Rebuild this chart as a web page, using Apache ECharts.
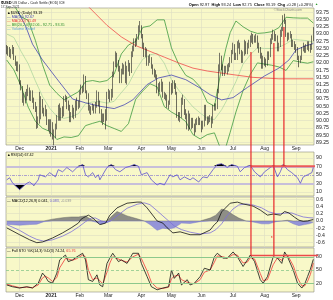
<!DOCTYPE html>
<html><head><meta charset="utf-8">
<script src="https://cdn.jsdelivr.net/npm/echarts/dist/echarts.min.js"></script>
<style>html,body{margin:0;padding:0;background:#fff}#c{width:333px;height:300px}</style>
</head><body><div id="c"></div>
<script>
// ---------- DATA ----------
const monthTickDays = [9, 31, 51, 71, 94, 115, 136, 158, 180, 202];
const monthLabels = ['Dec','2021','Feb','Mar','Apr','May','Jun','Jul','Aug','Sep'];
const priceTicks = [89.25,89.5,89.75,90,90.25,90.5,90.75,91,91.25,91.5,91.75,92,92.25,92.5,92.75,93,93.25,93.5,93.75];
const rsiTicks = [10,30,50,70,90];
const macdTicks = [-0.6,-0.4,-0.2,0,0.2,0.4,0.6];
const stoTicks = [20,50,80];

const opens = [92.55,92.43,92.32,92.28,92.39,92.50,92.19,92.00,91.78,
91.87,91.32,91.12,90.70,90.70,90.80,91.00,91.10,90.80,90.98,90.70,90.50,90.45,89.80,90.00,90.10,90.65,90.35,90.25,90.30,89.95,89.72,
89.90,89.87,89.40,89.50,89.80,90.08,90.45,90.10,90.35,90.22,90.75,90.78,90.50,90.48,90.10,90.20,90.40,90.18,90.62,90.45,
90.55,91.00,91.10,91.08,91.50,91.00,90.90,90.40,90.42,90.40,90.48,90.30,90.50,90.95,90.60,90.35,90.10,90.12,90.10,90.08,
90.88,91.00,90.80,90.90,91.60,91.90,92.30,91.95,91.80,91.40,91.70,91.80,91.85,91.40,91.80,91.85,91.70,92.30,92.50,92.75,92.70,92.90,93.20,
93.25,92.90,92.60,92.30,92.45,92.00,92.15,92.15,91.85,91.70,91.65,91.55,91.05,91.20,91.10,91.30,90.85,90.85,90.80,90.55,90.60,
91.25,91.00,91.30,91.25,90.95,90.20,90.15,90.15,90.70,90.70,90.30,90.20,89.80,90.20,89.80,90.00,89.80,89.65,89.95,89.95,90.00,
89.95,89.85,89.85,90.45,90.10,89.95,90.05,90.05,89.95,90.50,90.50,90.50,91.05,91.85,92.20,91.85,91.70,91.75,91.80,91.80,91.90,92.10,
92.40,92.55,92.20,92.20,92.60,92.65,92.40,92.10,92.30,92.70,92.40,92.60,92.65,92.80,92.90,92.80,92.80,92.85,92.60,92.45,92.30,91.90,
92.15,92.05,92.00,92.30,92.25,92.75,92.90,93.05,92.90,92.90,92.50,92.60,93.10,93.15,93.55,93.45,92.95,92.85,92.95,92.95,92.65,92.65,
92.60,92.50,92.20,92.05,92.15,92.50,92.55,92.45,92.55,92.65,92.60,92.50,92.97];
const highs = [92.62,92.58,92.55,92.48,92.62,92.55,92.25,92.05,92.05,
91.95,91.40,91.20,90.95,91.00,91.10,91.25,91.15,91.05,91.05,90.80,90.65,90.50,90.15,91.00,90.85,90.75,90.45,90.55,90.40,90.05,90.05,
90.05,89.95,89.70,89.90,90.20,90.55,90.60,90.45,90.50,90.85,90.90,90.85,90.70,90.55,90.30,90.55,90.45,90.70,90.80,90.70,
91.05,91.25,91.20,91.60,91.55,91.05,90.95,90.55,90.50,90.60,90.55,90.65,91.05,91.00,90.70,90.40,90.25,90.25,90.40,91.00,
91.10,91.05,91.10,91.70,92.05,92.40,92.35,92.10,91.90,91.80,92.00,91.95,92.05,91.90,92.10,92.00,92.40,92.60,92.85,92.85,93.00,93.30,93.45,
93.30,93.00,92.70,92.55,92.50,92.25,92.30,92.20,91.95,91.80,91.75,91.60,91.30,91.35,91.45,91.35,91.00,90.95,90.90,90.70,91.35,
91.30,91.40,91.40,91.30,91.00,90.30,90.30,90.80,90.90,90.75,90.40,90.25,90.35,90.25,90.10,90.10,89.90,90.05,90.10,90.15,90.10,
90.00,90.00,90.55,90.55,90.15,90.15,90.20,90.15,90.55,90.60,90.60,91.10,91.95,92.35,92.25,91.95,91.90,91.90,91.95,92.00,92.20,92.45,
92.70,92.65,92.35,92.75,92.80,92.70,92.45,92.40,92.80,92.75,92.70,92.80,92.95,93.05,93.00,92.95,93.00,92.95,92.70,92.55,92.35,92.25,
92.20,92.15,92.40,92.40,92.85,93.00,93.15,93.10,93.00,92.95,92.70,93.15,93.25,93.65,93.70,93.50,93.05,93.05,93.10,93.00,92.80,92.75,
92.65,92.55,92.25,92.25,92.55,92.70,92.60,92.65,92.75,92.75,92.65,92.95,93.24];
const lows = [92.30,92.25,92.20,92.15,92.30,92.10,91.90,91.72,91.70,
91.25,91.05,90.62,90.52,90.60,90.70,90.85,90.70,90.68,90.62,90.40,90.30,89.72,89.75,89.90,90.05,90.25,90.15,90.15,89.85,89.65,89.55,
89.45,89.35,89.15,89.40,89.70,90.00,90.00,90.00,90.10,90.15,90.65,90.40,90.35,89.95,89.95,90.10,90.05,90.10,90.35,90.40,
90.45,90.90,90.95,91.00,90.95,90.75,90.35,90.25,90.20,90.35,90.25,90.25,90.45,90.50,90.25,89.95,89.85,89.95,89.70,90.00,
90.75,90.65,90.70,90.80,91.50,91.85,91.85,91.70,91.30,91.30,91.60,91.60,91.30,91.25,91.70,91.55,91.65,92.20,92.40,92.55,92.60,92.80,93.05,
92.85,92.50,92.20,92.20,91.90,91.90,92.00,91.80,91.60,91.50,91.45,90.95,90.85,91.00,91.00,90.80,90.75,90.70,90.45,90.40,90.55,
90.90,90.95,91.10,90.90,90.10,90.00,89.95,90.10,90.55,90.20,90.05,89.70,89.65,89.70,89.70,89.75,89.50,89.60,89.85,89.85,89.85,
89.60,89.70,89.80,90.00,89.85,89.90,89.95,89.75,89.90,90.35,90.35,90.40,90.95,91.70,91.75,91.55,91.55,91.65,91.60,91.70,91.85,92.00,
92.30,92.10,92.10,92.10,92.50,92.30,92.00,92.00,92.25,92.30,92.30,92.50,92.55,92.70,92.65,92.70,92.70,92.50,92.35,92.15,91.80,91.80,
91.90,91.85,91.90,92.10,92.20,92.65,92.80,92.75,92.75,92.40,92.40,92.55,92.90,93.10,93.35,92.90,92.75,92.80,92.85,92.55,92.55,92.45,
92.35,92.10,91.85,92.00,92.10,92.40,92.35,92.35,92.45,92.40,92.35,92.45,92.75];
const closes = [92.43,92.32,92.28,92.39,92.50,92.19,92.00,91.78,91.87,
91.32,91.12,90.70,90.70,90.80,91.00,91.10,90.80,90.98,90.70,90.50,90.45,89.80,90.00,90.10,90.65,90.35,90.25,90.30,89.95,89.72,89.90,
89.87,89.40,89.50,89.80,90.08,90.45,90.10,90.35,90.22,90.75,90.78,90.50,90.48,90.10,90.20,90.40,90.18,90.62,90.45,90.55,
91.00,91.10,91.08,91.50,91.00,90.90,90.40,90.42,90.40,90.48,90.30,90.50,90.95,90.60,90.35,90.10,90.12,90.10,90.08,90.88,
91.00,90.80,90.90,91.60,91.90,92.30,91.95,91.80,91.40,91.70,91.80,91.85,91.40,91.80,91.85,91.70,92.30,92.50,92.75,92.70,92.90,93.20,93.25,
92.90,92.60,92.30,92.45,92.00,92.15,92.15,91.85,91.70,91.65,91.55,91.05,91.20,91.10,91.30,90.85,90.85,90.80,90.55,90.60,91.25,
91.00,91.30,91.25,90.95,90.20,90.15,90.15,90.70,90.70,90.30,90.20,89.80,90.20,89.80,90.00,89.80,89.65,89.95,89.95,90.00,89.95,
89.85,89.85,90.45,90.10,89.95,90.05,90.05,89.95,90.50,90.50,90.50,91.05,91.85,92.20,91.85,91.70,91.75,91.80,91.80,91.90,92.10,92.40,
92.55,92.20,92.20,92.60,92.65,92.40,92.10,92.30,92.70,92.40,92.60,92.65,92.80,92.90,92.80,92.80,92.85,92.60,92.45,92.30,91.90,92.15,
92.05,92.00,92.30,92.25,92.75,92.90,93.05,92.90,92.90,92.50,92.60,93.10,93.15,93.55,93.45,92.95,92.85,92.95,92.95,92.65,92.65,92.60,
92.50,92.20,92.05,92.15,92.50,92.55,92.45,92.55,92.65,92.60,92.50,92.91,93.19];

const ma50Pts = [[8,93.76],[13,93.30],[18,92.65],[25,92.10],[35,91.45],[46,90.75],[55,90.62],[65,90.50],[75,90.42],[82,90.55],[88,90.72],[98,91.25],[106,91.48],[115,91.58],[125,91.42],[135,91.13],[142,90.90],[150,90.72],[158,90.80],[168,91.15],[180,91.55],[190,91.82],[197,92.10],[202,92.45],[208,92.58],[214,92.67]];
const ma200Pts = [[57,93.95],[62,93.70],[70,93.30],[80,92.90],[90,92.60],[100,92.40],[110,92.20],[120,92.00],[130,91.82],[140,91.72],[154,91.62],[172,91.50],[190,91.45],[214,91.45]];
const bbDays  = [0,5,10,15,20,25,30,35,40,45,50,55,60,65,70,75,80,85,90,95,100,105,110,115,120,125,130,135,140,145,150,153,156,160,165,170,175,180,185,190,195,200,205,210,214];
const bbUpper = [93.90,94.00,93.60,93.47,92.78,91.94,91.23,90.95,90.72,90.86,91.00,91.35,91.39,91.34,91.39,91.61,92.31,92.62,92.74,93.23,93.28,93.49,93.49,92.52,91.96,91.57,91.44,91.17,90.64,90.50,91.82,92.50,93.05,93.45,93.25,93.10,93.02,93.04,93.08,93.22,93.58,93.56,93.55,93.55,93.38];
const bbMid   = [93.00,92.88,92.40,91.97,91.38,90.84,90.43,90.15,90.08,90.14,90.24,90.59,90.65,90.66,90.61,90.67,90.97,91.26,91.74,92.13,92.28,92.33,91.99,91.42,91.06,90.77,90.48,90.27,90.08,90.04,90.38,90.65,90.95,91.35,91.96,92.28,92.52,92.50,92.50,92.54,92.66,92.82,92.79,92.77,92.71];
const bbLower = [92.10,91.76,91.20,90.47,89.98,89.74,89.63,89.35,89.44,89.42,89.48,89.83,89.91,89.98,89.83,89.73,89.63,89.90,90.74,91.03,91.28,91.17,90.49,90.30,90.16,89.97,89.52,89.37,89.52,89.58,88.94,89.10,89.60,90.30,91.05,91.60,92.00,91.96,91.92,91.86,91.74,92.08,92.03,91.99,92.04];

const rsiPts = [[0,38],[2,43],[4,31],[9,15],[14,30],[16,33],[19,25],[20,21],[22,38],[23,50],[27,45],[30,55],[34,45],[36,62],[39,57],[42,67],[46,57],[49,67],[53,74],[55,50],[57,45],[60,55],[62,43],[64,50],[65,38],[67,50],[70,67],[73,74],[76,62],[79,57],[83,67],[86,70],[89,74],[92,70],[94,50],[98,55],[101,38],[105,26],[107,30],[110,26],[114,50],[116,45],[119,50],[121,38],[124,45],[128,38],[130,43],[134,33],[137,45],[140,43],[144,62],[147,74],[150,76],[154,67],[157,74],[161,70],[163,57],[166,67],[170,72],[173,57],[177,45],[180,57],[184,67],[186,72],[189,45],[191,57],[193,74],[196,62],[199,55],[203,43],[205,30],[207,45],[210,50],[213,55],[214,67.42]];

const macdPts = [[0,-0.19],[9,-0.38],[16,-0.52],[21,-0.60],[25,-0.58],[32,-0.47],[39,-0.33],[45,-0.19],[50,-0.06],[52,0.05],[55,0.12],[57,0.16],[59,0.11],[61,0.05],[65,-0.10],[69,-0.06],[72,0.16],[77,0.36],[84,0.49],[91,0.52],[94,0.52],[98,0.36],[105,0.0],[109,-0.06],[112,-0.19],[116,-0.33],[121,-0.30],[128,-0.38],[135,-0.38],[142,-0.25],[145,-0.10],[147,-0.03],[150,0.25],[156,0.49],[161,0.52],[165,0.47],[172,0.41],[177,0.30],[182,0.16],[186,0.19],[191,0.16],[194,0.26],[197,0.22],[201,0.10],[204,0.02],[207,-0.01],[210,0.0],[214,0.041]];
const signalPts = [[0,-0.10],[9,-0.26],[16,-0.42],[21,-0.51],[26,-0.56],[32,-0.52],[39,-0.42],[45,-0.30],[50,-0.17],[55,-0.02],[59,0.08],[62,0.08],[66,0.0],[70,-0.04],[73,0.02],[77,0.14],[84,0.35],[91,0.46],[96,0.50],[100,0.45],[105,0.28],[109,0.14],[113,0.0],[117,-0.14],[122,-0.24],[128,-0.31],[135,-0.36],[142,-0.33],[146,-0.24],[150,-0.08],[154,0.15],[158,0.33],[162,0.44],[167,0.47],[172,0.44],[178,0.36],[183,0.25],[188,0.20],[191,0.20],[195,0.22],[199,0.22],[203,0.16],[207,0.11],[211,0.09],[214,0.083]];
const histPts = [[0,-0.09],[9,-0.12],[16,-0.10],[21,-0.09],[26,-0.02],[32,0.05],[39,0.09],[45,0.11],[50,0.11],[55,0.14],[59,0.04],[62,-0.03],[66,-0.09],[70,-0.04],[73,0.12],[77,0.26],[84,0.14],[91,0.06],[96,0.0],[100,-0.10],[105,-0.26],[109,-0.20],[113,-0.22],[117,-0.19],[122,-0.06],[128,-0.07],[135,-0.02],[142,0.08],[146,0.16],[150,0.33],[154,0.28],[158,0.17],[162,0.08],[167,0.0],[172,-0.03],[178,-0.08],[183,-0.08],[188,-0.02],[192,0.0],[196,0.02],[200,-0.08],[204,-0.13],[208,-0.10],[211,-0.08],[214,-0.039]];

const stoK = [[0,16],[4,12],[9,9],[14,12],[18,9],[22,20],[25,43],[27,35],[29,24],[32,20],[35,43],[37,73],[41,84],[43,69],[46,73],[49,80],[53,88],[55,73],[57,28],[60,24],[63,39],[65,16],[67,12],[70,65],[72,77],[74,88],[78,69],[80,73],[84,65],[88,88],[92,88],[94,65],[98,35],[101,12],[105,5],[109,9],[113,12],[115,50],[117,31],[120,43],[122,16],[126,28],[128,16],[131,20],[135,35],[138,54],[142,50],[145,80],[147,88],[151,77],[154,77],[158,91],[161,80],[165,58],[168,73],[170,84],[173,69],[177,28],[179,20],[182,35],[186,80],[189,77],[192,65],[194,91],[196,80],[200,50],[203,20],[206,9],[208,18],[210,35],[212,52],[214,74.24]];
const stoD = [[0,18],[4,14],[9,10],[14,11],[18,10],[22,16],[25,32],[27,36],[29,32],[32,24],[35,33],[37,55],[41,76],[43,75],[46,72],[49,76],[53,84],[55,80],[57,50],[60,28],[63,32],[65,26],[67,18],[70,45],[72,66],[74,80],[78,75],[80,72],[84,68],[88,80],[92,86],[94,76],[98,48],[101,22],[105,9],[109,8],[113,11],[115,30],[117,36],[120,38],[122,28],[126,22],[128,20],[131,19],[135,28],[138,45],[142,50],[145,68],[147,82],[151,80],[154,77],[158,85],[161,84],[165,66],[168,68],[170,78],[173,75],[177,42],[179,26],[182,28],[186,62],[189,78],[192,72],[194,82],[196,84],[200,60],[203,32],[206,14],[208,14],[210,24],[212,40],[214,65.76]];

// user-drawn annotations
const markerDays = [170.5, 186.5, 193.5];
const markerTopPrices = [92.38, 92.69, 93.24];
const markerStops = ['sto', 'sto', 'rsi'];
const rsiRedLevel = 70;
const stoRedLevel = 83;
const macdDot = [185, -0.44];

// ---------- CHART ----------
const FONT = 'Liberation Sans';
const BG = '#f8f8c8';
const GRIDC = '#deddc2';
const chart = echarts.init(document.getElementById('c'), null, {renderer: 'canvas'});
const candleData = closes.map((c, i) => [i, opens[i], c, lows[i], highs[i]]);
const pairs = (days, vals) => days.map((d, i) => [d, vals[i]]);

const gridBoxes = [[8,137],[152,44],[197,50],[248,44]];
const grids = gridBoxes.map(b => ({left: 6, top: b[0], width: 308, height: b[1], show: true,
  backgroundColor: BG, borderColor: '#8f8f80', borderWidth: 0.6, containLabel: false, outerBoundsMode: 'none'}));

function xAx(i, showLabel) {
  return {type: 'value', gridIndex: i, min: -0.5, max: 214.5,
    axisLine: {show: false}, axisTick: {show: false, customValues: monthTickDays},
    splitLine: {show: true, lineStyle: {color: GRIDC, width: 0.6}},
    axisLabel: {show: showLabel, customValues: monthTickDays, fontSize: 5, color: '#222', margin: 1.5, fontFamily: FONT,
      formatter: v => { const k = monthTickDays.indexOf(v); if (k < 0) return ''; return k === 1 ? '{b|' + monthLabels[k] + '}' : monthLabels[k]; },
      rich: {b: {fontWeight: 'bold', fontSize: 5, color: '#222', fontFamily: FONT}}}};
}
function yAx(i, min, max, ticks, fmt, split) {
  return {type: 'value', gridIndex: i, position: 'right', min: min, max: max,
    axisLine: {show: false}, axisTick: {show: false, customValues: ticks},
    axisLabel: {customValues: ticks, formatter: fmt, fontSize: 5.2, color: '#222', margin: 2, fontFamily: FONT},
    splitLine: {show: split, lineStyle: {color: GRIDC, width: 0.6}}};
}
const lineS = (name, xi, data, color, width, extra) => Object.assign({
  type: 'line', name: name, xAxisIndex: xi, yAxisIndex: xi, data: data, showSymbol: false, symbol: 'none',
  lineStyle: {color: color, width: width}, silent: true, animation: false, z: 3}, extra || {});
const hl = (y, color, width, type) => ({yAxis: y, lineStyle: {color: color, width: width, type: type || 'solid'}});
const markLines = (arr) => ({silent: true, symbol: 'none', label: {show: false}, data: arr, animation: false});

const option = {
  animation: false,
  textStyle: {fontFamily: FONT},
  grid: grids,
  xAxis: [xAx(0, true), xAx(1, false), xAx(2, false), xAx(3, true)],
  yAxis: [
    yAx(0, 89.16, 93.90, priceTicks, v => v.toFixed(2), true),
    yAx(1, 0, 103.6, rsiTicks, v => String(v), false),
    yAx(2, -0.719, 0.661, macdTicks, v => v.toFixed(1), true),
    yAx(3, 0, 100, stoTicks, v => String(v), false)
  ],
  series: [
    lineS('bbMid', 0, pairs(bbDays, bbMid), '#a6d29a', 0.7),
    lineS('bbUpper', 0, pairs(bbDays, bbUpper), '#3f9a3f', 0.8),
    lineS('bbLower', 0, pairs(bbDays, bbLower), '#3f9a3f', 0.8),
    lineS('ma200', 0, ma200Pts, '#f04a4a', 0.8),
    lineS('ma50', 0, ma50Pts, '#4646b4', 0.8),
    {type: 'candlestick', xAxisIndex: 0, yAxisIndex: 0, data: candleData, encode: {x: 0, y: [1, 2, 3, 4]},
      barWidth: 1.1, silent: true, animation: false, z: 4,
      itemStyle: {color: '#d8d8c8', color0: '#111', borderColor: '#222', borderColor0: '#111', borderWidth: 0.6}},
    // RSI
    lineS('rsiHi', 1, rsiPts.map(p => [p[0], Math.max(p[1], 70)]), '#000', 0, {areaStyle: {origin: 70, color: '#000', opacity: 1}, lineStyle: {width: 0, opacity: 0}}),
    lineS('rsiLo', 1, rsiPts.map(p => [p[0], Math.min(p[1], 30)]), '#000', 0, {areaStyle: {origin: 30, color: '#000', opacity: 1}, lineStyle: {width: 0, opacity: 0}}),
    lineS('rsi', 1, rsiPts, '#5a4fcf', 0.8, {markLine: markLines([hl(70, '#c7bfda', 1.8), hl(30, '#c7bfda', 1.8), hl(50, '#7a6ad0', 0.6, [3, 1, 1, 1]), hl(90, GRIDC, 0.6), hl(10, GRIDC, 0.6)]), z: 5}),
    // MACD
    lineS('histPos', 2, histPts.map(p => [p[0], Math.max(p[1], 0)]), '#555', 0.4, {areaStyle: {origin: 0, color: '#8e8e86', opacity: 1}}),
    lineS('histNeg', 2, histPts.map(p => [p[0], Math.min(p[1], 0)]), '#6c6cc4', 0.4, {areaStyle: {origin: 0, color: '#9494d8', opacity: 1}}),
    lineS('signal', 2, signalPts, '#7c6fd8', 0.8),
    lineS('macd', 2, macdPts, '#111', 0.8),
    // STO
    lineS('stoD', 3, stoD, '#f03a3a', 0.8, {markLine: markLines([hl(80, '#8cc88c', 1), hl(20, '#8cc88c', 1), hl(50, '#8cc88c', 0.8, [3, 2])])}),
    lineS('stoK', 3, stoK, '#111', 0.8)
  ]
};
chart.setOption(option);

// ---------- TEXT + ANNOTATIONS ----------
const P = (g, x, y) => chart.convertToPixel({gridIndex: g}, [x, y]);
const T = (x, y, text, fill, size, extra) => ({type: 'text', x: x, y: y, z: 200, silent: true,
  style: Object.assign({text: text, fill: fill, fontSize: size, fontFamily: FONT, verticalAlign: 'middle'}, extra || {})});
const els = [
  T(1, 3, '{b|$USD} US Dollar - Cash Settle (EOD) ICE', '#222', 3.4, {rich: {b: {fontWeight: 'bold', fontSize: 4, fill: '#000'}}}),
  T(1, 7.5, '17-Sep-2021', '#333', 3.2),
  T(313, 4.6, '{b|Open} 92.97  {b|High} 93.24  {b|Low} 92.75  {b|Close} 93.19  {b|Chg} +0.28 (+0.28%)', '#111', 3.9,
    {align: 'right', rich: {b: {fontWeight: 'bold', fill: '#000', fontSize: 3.9}}}),
  T(315, 4.6, '▲', '#2a9a2a', 3.2),
  T(302, 9.6, '©StockCharts.com', '#888', 3.4, {align: 'right'}),
  T(7, 12.7, '▲$USD (Daily) 93.19', '#000', 3.7),
  T(7, 16.8, '— MA(50) 92.67', '#4646b4', 3.7),
  T(7, 21, '— MA(200) 91.49', '#e83a3a', 3.7),
  T(7, 25.1, '— BB(20,2.0) 92.06 - 92.71 - 93.35', '#2f8f2f', 3.7),
  T(7, 29.3, '— Volume Undef', '#5aa0d8', 3.7),
  T(7, 155, '▲RSI(14) 67.42', '#000', 3.7),
  T(7, 201, '— MACD(12,26,9) 0.041, {p|0.083,} {g|-0.039}', '#000', 3.7,
    {rich: {p: {fill: '#6a5fd0', fontSize: 3.7}, g: {fill: '#999', fontSize: 3.7}}}),
  T(7, 250.8, '— Full STO %K(14,3) %D(3) 74.24, {r|65.76}', '#000', 3.7, {rich: {r: {fill: '#e83030', fontSize: 3.7}}})
];
markerDays.forEach((d, k) => {
  const top = P(0, d, markerTopPrices[k]);
  const bot = markerStops[k] === 'sto' ? P(3, d, stoRedLevel) : P(1, d, rsiRedLevel);
  els.push({type: 'line', z: 150, silent: true, shape: {x1: top[0], y1: top[1], x2: top[0], y2: bot[1]},
    style: {stroke: '#e8282b', lineWidth: 1.2}});
});
const r1 = P(1, markerDays[0], rsiRedLevel), r2 = P(1, 214.5, rsiRedLevel);
els.push({type: 'line', z: 149, silent: true, shape: {x1: r1[0], y1: r1[1], x2: r2[0] + 1, y2: r1[1]}, style: {stroke: '#ec5a5a', lineWidth: 2}});
const s1 = P(3, markerDays[0], stoRedLevel), s2 = P(3, 214.5, stoRedLevel);
els.push({type: 'line', z: 149, silent: true, shape: {x1: s1[0], y1: s1[1], x2: s2[0] + 4, y2: s1[1]}, style: {stroke: '#ec4a4a', lineWidth: 1.6}});
const md = P(2, macdDot[0], macdDot[1]);
els.push({type: 'circle', z: 150, silent: true, shape: {cx: md[0], cy: md[1], r: 0.7}, style: {fill: '#e02020'}});
chart.setOption({graphic: {elements: els}});
</script>
</body></html>
